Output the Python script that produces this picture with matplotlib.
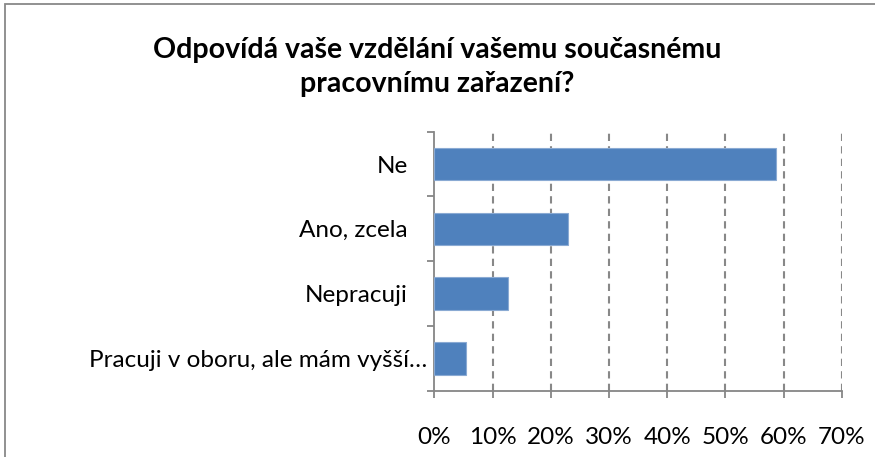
import matplotlib.pyplot as plt
from matplotlib.patches import Rectangle
from matplotlib.ticker import FixedLocator, PercentFormatter

plt.rcParams['font.family'] = ['Lato', 'DejaVu Sans']

# data (top to bottom as in the chart)
categories = ['Ne', 'Ano, zcela', 'Nepracuji', 'Pracuji v oboru, ale mám vyšší…']
shares = [58.7, 22.9, 12.7, 5.5]
title = 'Odpovídá vaše vzdělání vašemu současnému\npracovnímu zařazení?'

fig = plt.figure(figsize=(8.75, 4.57), dpi=100)
ax = fig.add_axes([434.3 / 875, 1 - 390.7 / 457, 407.4 / 875, 259 / 457])

pos = list(range(len(categories)))[::-1]
ax.barh(pos, shares, height=0.5, color='#4F81BD', edgecolor='#8AAAD3', linewidth=0.8, zorder=3)

ax.set_xlim(0, 70)
ax.set_ylim(-0.5, len(categories) - 0.5)
ax.set_xticks(range(0, 71, 10))
ax.xaxis.set_major_formatter(PercentFormatter(decimals=0))
ax.set_yticks(pos)
ax.set_yticklabels(categories)
ax.yaxis.set_minor_locator(FixedLocator([p - 0.5 for p in range(len(categories) + 1)]))

for x in range(10, 71, 10):
    ax.axvline(x, color='#888888', linestyle=(0, (3.5, 2.5)), linewidth=1.5, zorder=1)

gray = '#868686'
for s in ['top', 'right']:
    ax.spines[s].set_visible(False)
for s in ['left', 'bottom']:
    ax.spines[s].set_color(gray)
    ax.spines[s].set_linewidth(1.3)

ax.tick_params(axis='x', length=5, width=1.3, color=gray, pad=21, labelsize=17.5)
ax.tick_params(axis='y', which='major', length=0, pad=19, labelsize=17.5)
ax.tick_params(axis='y', which='minor', length=5, width=1.3, color=gray)
# the truncated label sits closer to the axis
ax.yaxis.get_major_ticks()[-1].set_pad(5)

fig.text(0.5, 1 - 67 / 457, title, ha='center', va='center', fontsize=20.5,
         fontweight='bold', linespacing=1.4)

# chart border
fig.patches.append(Rectangle((4.5 / 875, -0.2), 1.2, 1 - 4.5 / 457 + 0.2,
                             transform=fig.transFigure, fill=False,
                             edgecolor='#888888', linewidth=1.3))

fig.savefig('out.png', dpi=100)
